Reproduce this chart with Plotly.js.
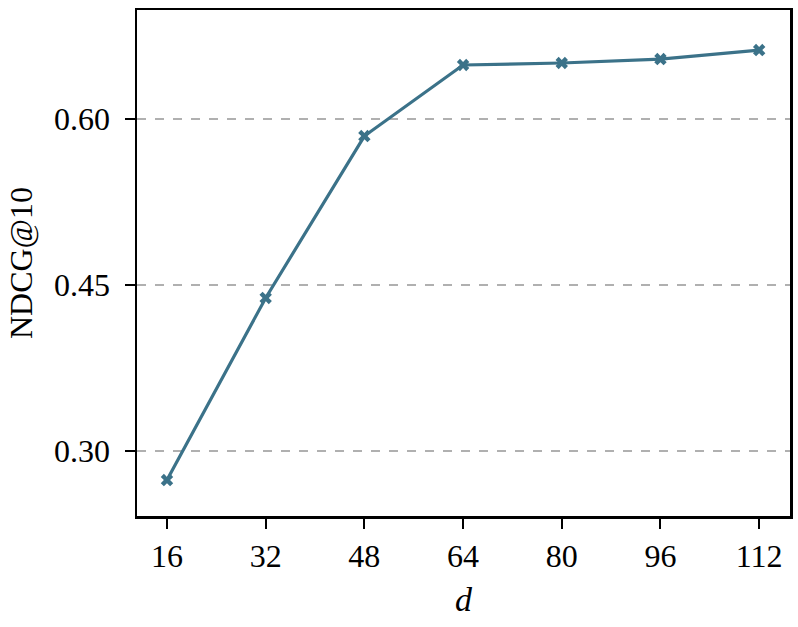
<!DOCTYPE html>
<html>
<head>
<meta charset="utf-8">
<script src="https://cdn.plot.ly/plotly-3.0.1.min.js"></script>
<style>html,body{margin:0;padding:0;background:#fff;}#chart{width:798px;height:627px;}</style>
</head>
<body>
<div id="chart"></div>
<script>
const dims = [16, 32, 48, 64, 80, 96, 112];
const ndcg = [0.2738, 0.4383, 0.5846, 0.6488, 0.6506, 0.6542, 0.6623];
const yTicks = [0.30, 0.45, 0.60];
const yTickLabels = ["0.30", "0.45", "0.60"];

const font = "Liberation Serif, DejaVu Serif, serif";
const trace = {
  x: dims, y: ndcg, type: "scatter", mode: "lines+markers",
  line: {color: "#3b7289", width: 3.2},
  marker: {symbol: "x", size: 11, color: "#3b7289"},
  hoverinfo: "skip"
};
const layout = {
  width: 798, height: 627,
  margin: {l: 137, r: 8, t: 10, b: 111},
  paper_bgcolor: "#fff", plot_bgcolor: "#fff",
  showlegend: false,
  font: {family: font, size: 32, color: "#000"},
  xaxis: {
    range: [11.14, 117.0], tickvals: dims, ticktext: dims.map(String),
    ticks: "outside", ticklen: 10, tickwidth: 2, tickcolor: "#000",
    showline: true, linecolor: "#000", linewidth: 2.5, mirror: true,
    showgrid: false, zeroline: false, automargin: false,
    tickfont: {family: font, size: 32},
    title: {text: "<i>d</i>", font: {family: font, size: 34}, standoff: 15}
  },
  yaxis: {
    range: [0.2413, 0.6985], tickvals: yTicks, ticktext: yTickLabels,
    ticks: "outside", ticklen: 10, tickwidth: 2, tickcolor: "#000",
    ticklabelstandoff: 8,
    showline: true, linecolor: "#000", linewidth: 2.5, mirror: true,
    showgrid: true, gridcolor: "#b0b0b0", griddash: "dash", gridwidth: 1.3,
    zeroline: false, automargin: false,
    tickfont: {family: font, size: 32},
    title: {text: "NDCG@10", font: {family: font, size: 32}, standoff: 12}
  }
};
Plotly.newPlot("chart", [trace], layout, {staticPlot: true});
</script>
</body>
</html>
